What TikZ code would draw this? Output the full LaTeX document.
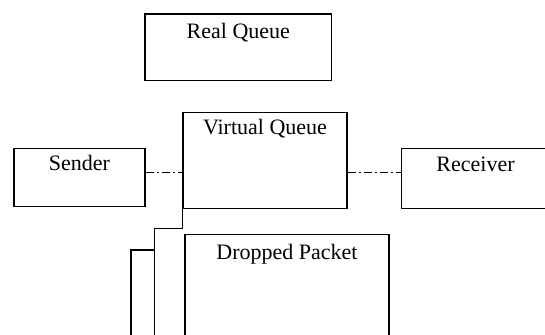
\documentclass[tikz,border=0pt]{standalone}
\usepackage{fontspec}
\setmainfont{Liberation Serif}

\begin{document}
\begin{tikzpicture}[x=1pt,y=-1pt,
    box/.style={draw, line width=1.5pt, inner sep=0pt},
    title/.style={anchor=north, inner sep=0pt, yshift=-7pt, font=\fontsize{22}{26}\selectfont},
    link/.style={line width=1.3pt, dash pattern=on 8pt off 3pt on 2pt off 3pt}]
      \useasboundingbox (0,0) rectangle (545,334);
      \clip (0,0) rectangle (545,334);
      \node [box, minimum width=186.6pt, minimum height=66.3pt, label={[title,yshift=-3pt]north:Real Queue}] (real) at (238.3,47.2) {};
      \node [box, minimum width=164pt, minimum height=96pt, label={[title]north:Virtual Queue}] (virtual) at (265,160.3) {};
      \node [box, minimum width=131pt, minimum height=58.4pt, label={[title]north:Sender}] (sender) at (79.5,177.5) {};
      \node [box, minimum width=148pt, minimum height=59.6pt, label={[title,yshift=-2pt]north:Receiver}] (receiver) at (475.5,178.5) {};
      \node [box, minimum width=204pt, minimum height=110pt, label={[title,yshift=-3pt]north:Dropped Packet}] (dropped) at (287,289.3) {};
      \coordinate (vq left) at (virtual.west |- 0,172.3);
      \coordinate (vq right) at (virtual.east |- 0,172.3);
      \draw [link] (sender.east |- vq left) -- (vq left);
      \draw [link] (vq right) -- (receiver.west |- vq right);
      \coordinate (step1) at (154.7,228.3);
      \coordinate (step2) at (131,250);
      \draw [line width=1.5pt] (virtual.south west) |- (step1) |- (step2) -- (131,340);
      \draw [line width=1.5pt] (step1 |- step2) -- (154.7,340);
\end{tikzpicture}
\end{document}
